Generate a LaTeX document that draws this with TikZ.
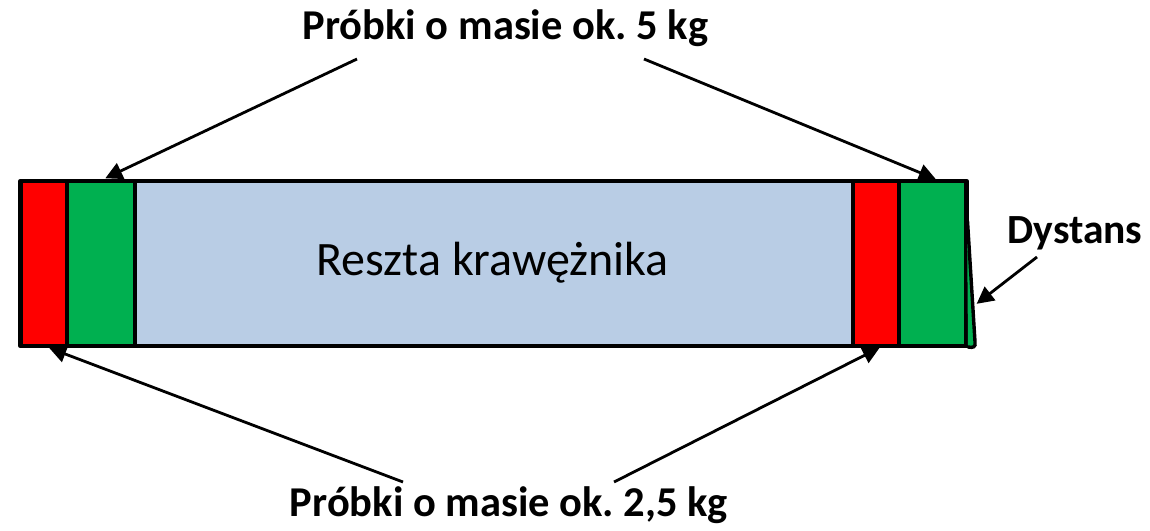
\documentclass[tikz,border=0pt]{standalone}
\usepackage{fontspec}
\setmainfont{Carlito}
\frenchspacing
\usetikzlibrary{arrows.meta}
\definecolor{segred}{HTML}{FF0000}
\definecolor{seggreen}{HTML}{00B050}
\definecolor{segblue}{HTML}{B9CDE5}
\tikzset{
  seg/.style={draw=black, line width=4.6pt, line join=round},
  pointer/.style={draw=black, line width=2.8pt,
    -{Triangle[length=17pt,width=17pt]}, shorten >=-3pt},
  boldlabel/.style={font=\fontsize{42.5}{46}\bfseries\selectfont, inner sep=0pt, anchor=base},
}
\begin{document}
\begin{tikzpicture}[x=1pt, y=-1pt]
  \useasboundingbox (0,0) rectangle (1150,530);

  % kerb segments
  \path[seg, fill=segblue]  (135,181) rectangle (853,346);
  \path[seg, fill=segred]   (20.5,181) rectangle (67,346);
  \path[seg, fill=seggreen] (67,181) rectangle (135,346);
  \path[seg, fill=segred]   (853,181) rectangle (899,346);
  \path[seg, fill=seggreen] (899,181) rectangle (966.5,346);

  % thin spacer strip at the right end
  \fill[seggreen] (967,221) -- (975,342) .. controls (976,347) and (973,348) .. (968,347) -- cycle;
  \draw[line width=3.4pt, line cap=round] (967.5,221) -- (975,342) .. controls (976,347) and (973,348) .. (968,347);

  \node[font=\fontsize{48}{52}\selectfont, inner sep=0pt, anchor=base] (rest) at (492.5,275) {Reszta krawężnika};

  % labels
  \node[boldlabel] (top) at (505.5,39) {Próbki o masie ok. 5 kg};
  \node[boldlabel] (bottom) at (509,516) {Próbki o masie ok. 2,5 kg};
  \node[boldlabel, font=\fontsize{41.5}{45}\bfseries\selectfont] (dist) at (1075,243) {Dystans};

  % connector ends
  \coordinate (t1) at (357,59);
  \coordinate (t2) at (644,59);
  \coordinate (b1) at (403,482);
  \coordinate (b2) at (614,482);
  \coordinate (d1) at (1037,257);
  \coordinate (tl) at (108,177);
  \coordinate (tr) at (933,178);
  \coordinate (bl) at (52,349);
  \coordinate (br) at (877,349);
  \coordinate (dr) at (979,302);

  \draw[pointer] (t1) -- (tl);
  \draw[pointer] (t2) -- (tr);
  \draw[pointer] (b1) -- (bl);
  \draw[pointer] (b2) -- (br);
  \draw[pointer] (d1) -- (dr);
\end{tikzpicture}
\end{document}
